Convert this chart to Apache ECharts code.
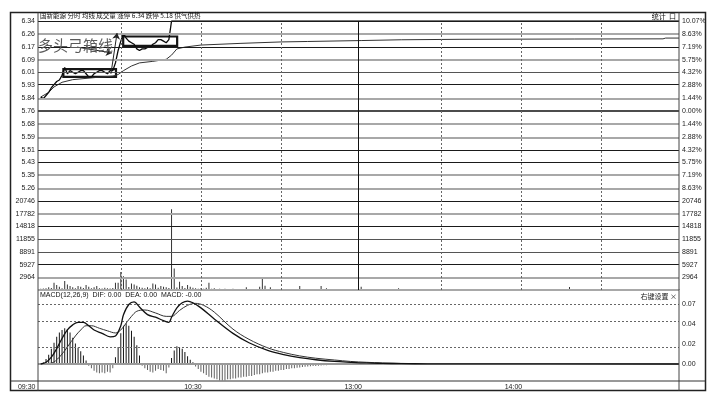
<!DOCTYPE html>
<html><head><meta charset="utf-8">
<script src="https://cdn.jsdelivr.net/npm/echarts@6/dist/echarts.min.js"></script>
<style>html,body{margin:0;padding:0;background:#fff}#c{width:717px;height:403px}</style>
</head><body><div id="c"></div>
<script>
// ---------- tick labels ----------
const priceTicks = ['6.34','6.26','6.17','6.09','6.01','5.93','5.84','5.76','5.68','5.59','5.51','5.43','5.35','5.26'];
const pctTicks = ['10.07%','8.63%','7.19%','5.75%','4.32%','2.88%','1.44%','0.00%','1.44%','2.88%','4.32%','5.75%','7.19%','8.63%'];
const volTicks = ['20746','17782','14818','11855','8891','5927','2964'];
const macdTicks = ['0.07','0.04','0.02','0.00'];
const timeTicks = ['09:30','10:30','13:00','14:00'];
const timeTickMinutes = [0, 60, 120, 180];
const dashedMinutes = [30, 60, 90, 150, 180, 210];
const middayMinute = 119;

// ---------- scales ----------
const priceMin = 5.18, priceMax = 6.34;
const pctMax = 10.07;
const volMax = 20746;
const macdStep = 0.0235;
const macdMin = -0.02, macdMax = 0.087;

// ---------- price (minute, price) ----------
const priceMinutes = [0,1,2,3,4,5,6,7,8,9,10,11,12,13,14,15,16,17,18,19,20,21,22,23,24,25,26,27,28,29,30,31,32,33,34,35,36,37,38,39,40,41,42,43,44,45,46,47,48,49,239];
const priceValues  = [5.85,5.84,5.86,5.88,5.91,5.93,5.95,5.96,5.99,6.04,6.00,6.02,6.01,6.00,6.01,6.02,6.02,6.00,5.98,5.98,6.00,6.01,6.02,6.02,6.01,6.00,6.02,6.02,6.07,6.15,6.21,6.26,6.23,6.21,6.20,6.19,6.16,6.15,6.16,6.16,6.17,6.17,6.19,6.20,6.22,6.22,6.21,6.20,6.22,6.34,6.34];

// ---------- average price ----------
const avgMinutes = [0,3,5,8,12,20,27,29,31,34,37,42,47,49,51,54,60,75,90,100,120,135,157,200,233,234,239];
const avgValues  = [5.85,5.88,5.915,5.945,5.962,5.975,5.985,5.995,6.02,6.05,6.07,6.08,6.093,6.12,6.16,6.172,6.185,6.196,6.205,6.208,6.214,6.219,6.222,6.224,6.225,6.23,6.23];

// ---------- volume per minute ----------
const volume = [
 300,350,400,620,450,1680,1150,770,420,2070,
 1310,920,620,400,920,770,450,1150,770,380,
 620,920,390,350,540,390,330,450,1680,1680,
 4220,3230,2460,700,1540,1310,1000,620,540,420,
 620,380,1540,1310,500,920,770,620,450,18830,
 5000,600,1920,920,450,1150,770,540,390,300,
 390,280,540,1680,320,390,250,310,220,300,
 260,200,310,180,240,150,210,620,180,230,
 160,200,770,2700,1000,260,620,190,150,220,
 170,130,210,160,140,230,180,920,150,120,
 200,140,170,110,190,920,160,390,130,150,
 120,180,100,140,160,90,150,120,170,110,
 770,140,100,160,120,90,150,110,130,100,
 140,90,120,100,390,110,130,230,90,120,
 230,100,80,130,110,90,120,100,140,80,
 110,90,130,100,80,120,90,110,100,130,
 90,110,80,120,100,90,140,80,110,100,
 120,90,100,80,130,110,90,100,120,80,
 100,130,90,110,80,120,100,90,140,110,
 90,120,100,80,130,160,110,200,690,150,
 120,90,110,100,130,80,120,100,90,110,
 100,80,120,90,110,130,90,100,80,120,
 110,90,100,130,80,110,100,90,120,100,
 90,110,80,120,100,130,90,110,100,150
];

// ---------- MACD ----------
const difMinutes = [0,2,4,6,8,10,12,14,16,18,20,23,26,28,30,31,33,35,37,40,43,46,48,49,51,53,55,57,60,65,72,78,85,91,97,103,110,116,122,128,135,145,160,239];
const difValues  = [0,0.002,0.008,0.018,0.030,0.040,0.046,0.049,0.049,0.045,0.040,0.036,0.032,0.033,0.045,0.058,0.070,0.073,0.067,0.058,0.055,0.051,0.049,0.055,0.066,0.072,0.074,0.072,0.066,0.053,0.036,0.025,0.016,0.011,0.0075,0.005,0.003,0.002,0.0012,0.0008,0.0004,0.0002,0.0001,0];
const deaMinutes = [0,4,7,10,13,15,17,19,22,25,28,30,32,34,36,39,43,47,49,52,55,58,61,65,72,78,85,91,97,103,110,116,122,128,135,145,160,239];
const deaValues  = [0,0.001,0.008,0.020,0.033,0.040,0.045,0.045,0.042,0.039,0.0365,0.040,0.048,0.056,0.062,0.0635,0.060,0.056,0.056,0.063,0.069,0.0713,0.069,0.061,0.041,0.029,0.019,0.0135,0.0095,0.0068,0.0047,0.003,0.002,0.0012,0.0007,0.0003,0.0001,0];
const macdHist = [
 0.001,0.002,0.006,0.011,0.018,0.025,0.032,0.037,0.040,0.042,
 0.041,0.037,0.031,0.024,0.019,0.015,0.010,0.004,-0.002,-0.005,
 -0.008,-0.010,-0.011,-0.010,-0.011,-0.009,-0.010,-0.005,0.008,0.020,
 0.036,0.045,0.048,0.045,0.039,0.032,0.022,0.010,-0.002,-0.005,
 -0.007,-0.009,-0.010,-0.008,-0.006,-0.007,-0.008,-0.011,-0.004,0.007,
 0.016,0.021,0.020,0.018,0.014,0.009,0.005,0.002,-0.003,-0.006,
 -0.009,-0.011,-0.013,-0.015,-0.016,-0.017,-0.018,-0.019,-0.019,-0.019,
 -0.018,-0.018,-0.017,-0.017,-0.016,-0.016,-0.015,-0.015,-0.014,-0.014,
 -0.013,-0.012,-0.012,-0.011,-0.010,-0.010,-0.009,-0.009,-0.008,-0.008,
 -0.007,-0.007,-0.006,-0.006,-0.005,-0.005,-0.0045,-0.004,-0.0036,-0.0033,
 -0.003,-0.0027,-0.0025,-0.0023,-0.002,-0.0018,-0.0016,-0.0015,-0.0013,-0.0012,
 -0.001,-0.0009,-0.0008,-0.0007,-0.0006,-0.0005,-0.0004,-0.0004,-0.0003,-0.0003,
 -0.0002
];

// ---------- annotation (data coords: minute, price) ----------
const box1 = [[8.5, 5.98], [28.2, 6.03]];
const box2 = [[30.9, 6.18], [51.1, 6.24]];
const arrow1 = [[13.6, 6.172], [26.7, 6.134]];
const arrow2 = [[26.3, 6.00], [28.6, 6.262]];
const annotText = '多头弓箱线';
const headerText = '国新能源 分时 均线 成交量 涨停 6.34 跌停 5.18 供气供热';
const macdTitle = 'MACD(12,26,9)  DIF: 0.00  DEA: 0.00  MACD: -0.00';

// ---------- helpers ----------
const pStep = (priceMax - priceMin) / 14;
const priceTickVals = priceTicks.map((_, i) => priceMax - i * pStep);
const pctStep = 2 * pctMax / 14;
const pctTickVals = pctTicks.map((_, i) => pctMax - i * pctStep);
const vStep = volMax / 7;
const volTickVals = volTicks.map((_, i) => volMax - i * vStep);
const macdTickVals = macdTicks.map((_, i) => (3 - i) * macdStep);

const zip = (a, b) => a.map((x, i) => [x, b[i]]);
const nearestIdx = (vals, v) => { let b = 0; vals.forEach((x, i) => { if (Math.abs(x - v) < Math.abs(vals[b] - v)) b = i; }); return b; };

const FONT = 'Liberation Sans';
const BLACK = {color: '#1a1a1a', width: 1, type: 'solid'};
const GRAY = {color: '#a8a8a8', width: 2, type: 'solid'};
const DARK = {color: '#555', width: 1, type: 'solid'};
const priceLineStyles = [BLACK, GRAY, BLACK, GRAY, DARK, BLACK, GRAY, {color:'#111',width:1.5,type:'solid'}, GRAY, GRAY, BLACK, BLACK, GRAY, GRAY];
const volLineStyles = [BLACK, GRAY, BLACK, DARK, DARK, BLACK, GRAY];

const hLinesPrice = priceTickVals.map((v, i) => ({yAxis: v, lineStyle: priceLineStyles[i]}));
const hLinesVol = volTickVals.map((v, i) => ({yAxis: v, lineStyle: volLineStyles[i]})).concat([{yAxis: 0, lineStyle: GRAY}]);
const vLines = dashedMinutes.map(m => ({xAxis: m, lineStyle: {color: '#666', width: 1, type: [2, 2]}}))
  .concat([{xAxis: middayMinute, lineStyle: {color: '#111', width: 1, type: 'solid'}}]);
const hLinesMacd = macdTickVals.map(v => v === 0
  ? {yAxis: v, lineStyle: {color: '#9a9a9a', width: 2, type: 'solid'}}
  : {yAxis: v, lineStyle: {color: '#666', width: 1, type: [2, 2]}});

const mkGuide = (xi, yi, data) => ({
  type: 'line', xAxisIndex: xi, yAxisIndex: yi, data: [], z: 1, silent: true,
  markLine: {silent: true, symbol: 'none', label: {show: false}, animation: false, data: data}
});

const labelBase = {fontSize: 7, color: '#222', fontFamily: FONT};
const xAxisBase = (gi, showLabel) => ({
  type: 'value', gridIndex: gi, min: -1, max: 239,
  axisLine: {show: false}, axisTick: {show: false}, splitLine: {show: false},
  axisLabel: showLabel ? Object.assign({}, labelBase, {
    customValues: timeTickMinutes, margin: 3,
    formatter: v => { const i = nearestIdx(timeTickMinutes, v); return '{' + (i === 0 ? 'f' : 't') + '|' + timeTicks[i] + '}'; },
    rich: {
      f: {fontSize: 7, fontFamily: FONT, color: '#222', padding: [0, 28, 0, 0]},
      t: {fontSize: 7, fontFamily: FONT, color: '#222', padding: [0, 16, 0, 0]}
    }
  }) : {show: false}
});
const yAxisBase = (gi, pos, min, max, vals, texts) => ({
  type: 'value', gridIndex: gi, position: pos, min: min, max: max,
  axisLine: {show: false}, axisTick: {show: false}, splitLine: {show: false},
  axisLabel: Object.assign({}, labelBase, {
    customValues: vals, margin: 3, showMinLabel: true, showMaxLabel: true,
    formatter: v => texts[nearestIdx(vals, v)]
  })
});

const chart = echarts.init(document.getElementById('c'), null, {renderer: 'canvas'});
chart.setOption({
  animation: false,
  backgroundColor: '#fff',
  grid: [
    {left: 38, right: 38, top: 21, height: 180},
    {left: 38, right: 38, top: 201, height: 89},
    {left: 38, right: 38, top: 290, height: 91}
  ],
  xAxis: [xAxisBase(0, false), xAxisBase(1, false), xAxisBase(2, true)],
  yAxis: [
    yAxisBase(0, 'left', priceMin, priceMax, priceTickVals, priceTicks),
    yAxisBase(0, 'right', -pctMax, pctMax, pctTickVals, pctTicks),
    yAxisBase(1, 'left', 0, volMax, volTickVals, volTicks),
    yAxisBase(1, 'right', 0, volMax, volTickVals, volTicks),
    yAxisBase(2, 'right', macdMin, macdMax, macdTickVals, macdTicks)
  ],
  series: [
    mkGuide(0, 0, hLinesPrice.concat(vLines)),
    mkGuide(1, 2, hLinesVol.concat(vLines)),
    mkGuide(2, 4, hLinesMacd),
    {
      type: 'line', xAxisIndex: 0, yAxisIndex: 0, data: zip(avgMinutes, avgValues),
      symbol: 'none', z: 3, lineStyle: {color: '#333', width: 1}
    },
    {
      type: 'line', xAxisIndex: 0, yAxisIndex: 0, data: zip(priceMinutes, priceValues),
      symbol: 'none', z: 4, lineStyle: {color: '#0a0a0a', width: 1.3},
      markArea: {silent: true, itemStyle: {color: 'rgba(0,0,0,0)', borderColor: '#151515', borderWidth: 2.2},
        data: [[{coord: box1[0]}, {coord: box1[1]}], [{coord: box2[0]}, {coord: box2[1]}]]},
      markLine: {silent: true, symbol: ['none', 'arrow'], symbolSize: 6, label: {show: false},
        lineStyle: {color: '#222', width: 1, type: 'solid'},
        data: [[{coord: arrow1[0]}, {coord: arrow1[1]}], [{coord: arrow2[0]}, {coord: arrow2[1]}]]}
    },
    {
      type: 'bar', xAxisIndex: 1, yAxisIndex: 2, data: volume.map((v, i) => [i, v]),
      barWidth: 1, z: 3, itemStyle: {color: '#333'}
    },
    {
      type: 'bar', xAxisIndex: 2, yAxisIndex: 4, data: macdHist.map((v, i) => [i, v]),
      barWidth: 1, z: 3,
      itemStyle: {color: p => p.value[1] >= 0 ? '#151515' : '#606060'}
    },
    {
      type: 'line', xAxisIndex: 2, yAxisIndex: 4, data: zip(deaMinutes, deaValues),
      symbol: 'none', smooth: 0.35, z: 4, lineStyle: {color: '#333', width: 1}
    },
    {
      type: 'line', xAxisIndex: 2, yAxisIndex: 4, data: zip(difMinutes, difValues),
      symbol: 'none', smooth: 0.35, z: 5, lineStyle: {color: '#111', width: 1.3}
    }
  ],
  graphic: [
    {type: 'rect', silent: true, z: 10, shape: {x: 10.5, y: 12.5, width: 695, height: 378},
      style: {fill: 'none', stroke: '#222', lineWidth: 1.5}},
    {type: 'line', silent: true, z: 10, shape: {x1: 38, y1: 12.5, x2: 38, y2: 390.5}, style: {stroke: '#444', lineWidth: 1}},
    {type: 'line', silent: true, z: 10, shape: {x1: 679, y1: 12.5, x2: 679, y2: 390.5}, style: {stroke: '#444', lineWidth: 1}},
    {type: 'line', silent: true, z: 10, shape: {x1: 10.5, y1: 381, x2: 705.5, y2: 381}, style: {stroke: '#333', lineWidth: 1}},
    {type: 'text', silent: true, z: 10, x: 40, y: 16,
      style: {text: headerText, font: "6.5px 'Noto Sans CJK SC', sans-serif", fill: '#111', align: 'left', verticalAlign: 'middle', textAlign: 'left', textVerticalAlign: 'middle'}},
    {type: 'text', silent: true, z: 10, x: 676, y: 16,
      style: {text: '统计  口', font: "7px 'Noto Sans CJK SC', sans-serif", fill: '#111', align: 'right', verticalAlign: 'middle', textAlign: 'right', textVerticalAlign: 'middle'}},
    {type: 'text', silent: true, z: 10, x: 40, y: 295,
      style: {text: macdTitle, font: "7px 'Liberation Sans', sans-serif", fill: '#111', align: 'left', verticalAlign: 'middle', textAlign: 'left', textVerticalAlign: 'middle'}},
    {type: 'text', silent: true, z: 10, x: 677, y: 296,
      style: {text: '右键设置 ×', font: "7px 'Noto Sans CJK SC', sans-serif", fill: '#222', align: 'right', verticalAlign: 'middle', textAlign: 'right', textVerticalAlign: 'middle'}},
    {type: 'text', silent: true, z: 10, x: 38, y: 45,
      style: {text: annotText, font: "15px 'Noto Sans CJK SC', serif", fill: '#5a5a5a', align: 'left', verticalAlign: 'middle', textAlign: 'left', textVerticalAlign: 'middle'}}
  ]
});
</script></body></html>
